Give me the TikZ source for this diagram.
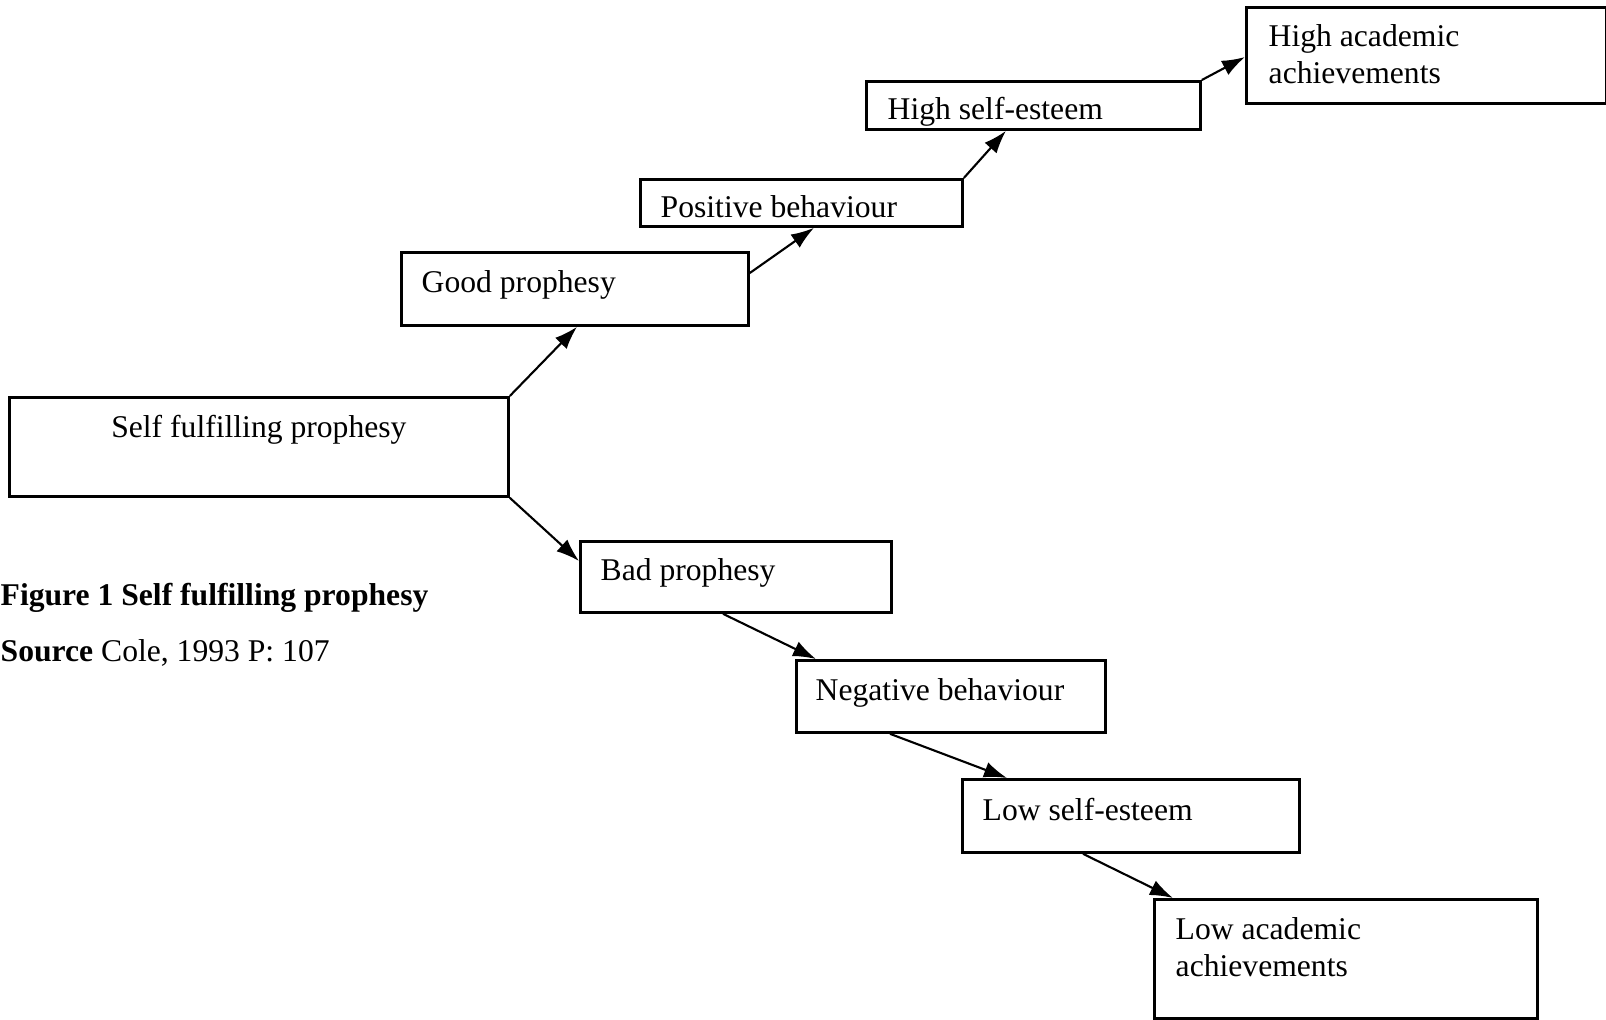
\documentclass[tikz,border=0pt]{standalone}
\usepackage{fontspec}
\setmainfont{Liberation Serif}
\usetikzlibrary{arrows.meta,positioning}
\tikzset{
  stage/.style={draw, line width=0.8pt, anchor=north west, inner sep=0pt},
  caption/.style={anchor=base west, inner sep=0pt, font=\fontsize{9}{10.5}\selectfont},
  stagetext/.style={caption, align=left},
  leads/.style={line width=0.6pt, -{Latex[length=2.3mm,width=1.6mm]}}
}
\begin{document}
\begin{tikzpicture}
\useasboundingbox (0,0) rectangle (16.06,-10.19);

\node[stage, minimum width=4.99cm, minimum height=0.99cm] (self) at (0.08,-3.96) {};
\node[stage, minimum width=3.47cm, minimum height=0.73cm] (good) at (4.00,-2.51) {};
\node[stage, minimum width=3.22cm, minimum height=0.47cm] (pos) at (6.39,-1.78) {};
\node[stage, minimum width=3.34cm, minimum height=0.48cm] (hse) at (8.65,-0.80) {};
\node[stage, minimum width=3.60cm, minimum height=0.96cm] (haa) at (12.45,-0.06) {};
\node[stage, minimum width=3.11cm, minimum height=0.71cm] (bad) at (5.79,-5.40) {};
\node[stage, minimum width=3.09cm, minimum height=0.72cm] (neg) at (7.95,-6.59) {};
\node[stage, minimum width=3.37cm, minimum height=0.73cm] (lse) at (9.61,-7.78) {};
\node[stage, minimum width=3.83cm, minimum height=1.19cm] (laa) at (11.53,-8.98) {};

\node[stagetext, anchor=base] (self-t) at ([yshift=-0.41cm]self.north) {Self fulfilling prophesy};
\node[stagetext] (good-t) at ([shift={(0.21,-0.41)}]good.north west) {Good prophesy};
\node[stagetext] (pos-t) at ([shift={(0.21,-0.39)}]pos.north west) {Positive behaviour};
\node[stagetext] (hse-t) at ([shift={(0.22,-0.39)}]hse.north west) {High self-esteem};
\node[stagetext] (haa-t) at ([shift={(0.23,-0.77)}]haa.north west) {High academic\\achievements};
\node[stagetext] (bad-t) at ([shift={(0.21,-0.40)}]bad.north west) {Bad prophesy};
\node[stagetext] (neg-t) at ([shift={(0.20,-0.41)}]neg.north west) {Negative behaviour};
\node[stagetext] (lse-t) at ([shift={(0.21,-0.42)}]lse.north west) {Low self-esteem};
\node[stagetext] (laa-t) at ([shift={(0.22,-0.78)}]laa.north west) {Low academic\\achievements};

\path[leads]
(self.north east) edge ([xshift=1.77cm]good.south west)
([yshift=-0.22cm]good.north east) edge ([xshift=1.75cm]pos.south west)
(pos.north east) edge ([xshift=1.41cm]hse.south west)
(hse.north east) edge ([yshift=-0.51cm]haa.north west)
(self.south east) edge ([yshift=-0.21cm]bad.north west)
([xshift=1.44cm]bad.south west) edge ([xshift=0.21cm]neg.north west)
([xshift=0.95cm]neg.south west) edge ([xshift=0.46cm]lse.north west)
([xshift=1.22cm]lse.south west) edge ([xshift=0.20cm]laa.north west);

\node[caption, font=\fontsize{9}{10.5}\selectfont\bfseries] (fig) at (0,-6.05) {Figure 1 Self fulfilling prophesy};
\node[caption] (src) at (0,-6.61) {\textbf{Source} Cole, 1993 P: 107};
\end{tikzpicture}
\end{document}
